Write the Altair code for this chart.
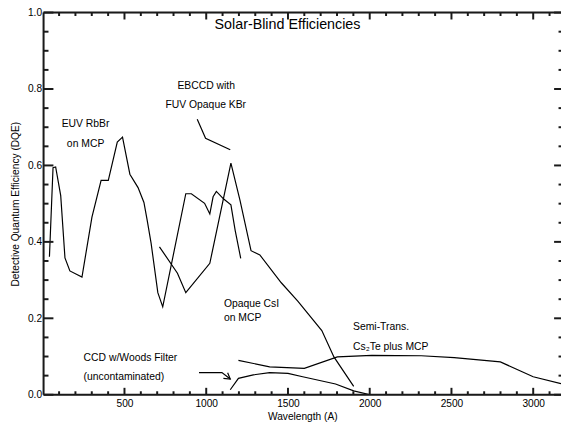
import altair as alt
import pandas as pd

# ---- curve data (wavelength in Angstrom, DQE) ----
euv_x = [41, 63, 79, 110, 136, 166, 240, 301, 357, 401, 456, 488, 533, 583, 619, 639,
         663, 704, 734, 875, 909, 990, 1022, 1042, 1062, 1107, 1151, 1177, 1211]
euv_y = [0.361, 0.594, 0.596, 0.521, 0.358, 0.324, 0.308, 0.465, 0.561, 0.561, 0.661,
         0.674, 0.577, 0.542, 0.503, 0.456, 0.396, 0.267, 0.230, 0.526, 0.526, 0.501,
         0.473, 0.518, 0.532, 0.512, 0.497, 0.430, 0.357]

csi_x = [714, 824, 875, 1022, 1151, 1207, 1274, 1328, 1459, 1560, 1707, 1781, 1902]
csi_y = [0.387, 0.318, 0.267, 0.344, 0.606, 0.508, 0.377, 0.366, 0.293, 0.245, 0.168,
         0.099, 0.022]

kbr_x = [945, 996, 1147]
kbr_y = [0.721, 0.671, 0.641]

cste_x = [1197, 1388, 1600, 1802, 2013, 2315, 2517, 2799, 3000, 3170]
cste_y = [0.090, 0.073, 0.069, 0.099, 0.103, 0.102, 0.097, 0.086, 0.047, 0.029]

ccd_x = [1147, 1197, 1288, 1388, 1500, 1590, 1791, 1902, 2003]
ccd_y = [0.013, 0.043, 0.052, 0.058, 0.056, 0.047, 0.028, 0.010, 0.000]

arrow_x = [956, 1096, 1147]
arrow_y = [0.058, 0.058, 0.041]
head_x = [1131, 1147, 1105]
head_y = [0.0575, 0.041, 0.043]

# ---- axis ticks ----
x_major = [500, 1000, 1500, 2000, 2500, 3000]
x_minor = [v for v in range(100, 3200, 100) if v % 500 != 0]
y_major = [0.0, 0.2, 0.4, 0.6, 0.8, 1.0]
y_minor = [round(0.05 * k, 2) for k in range(1, 20) if k % 4 != 0]

# ---- annotations ----
center_text = ["EBCCD with", "FUV Opaque KBr", "EUV RbBr", "on MCP"]
center_x = [1000, 997, 262, 262]
center_y = [0.807, 0.757, 0.709, 0.657]

left_text = ["Opaque CsI", "on MCP", "Semi-Trans.", "Cs\u2082Te plus MCP",
             "CCD w/Woods Filter", "(uncontaminated)"]
left_x = [1108, 1108, 1898, 1898, 250, 250]
left_y = [0.238, 0.200, 0.1765, 0.126, 0.0965, 0.0475]

title_text = ["Solar-Blind Efficiencies"]
title_x = [1497]
title_y = [0.968]

FONT = "Liberation Sans"
W, H = 524, 387
INK = "#1a1a1a"


def frame(name, xs, ys):
    return pd.DataFrame({"series": name, "x": xs, "y": ys, "i": list(range(len(xs)))})


df = pd.concat([
    frame("euv", euv_x, euv_y),
    frame("csi", csi_x, csi_y),
    frame("kbr", kbr_x, kbr_y),
    frame("cste", cste_x, cste_y),
    frame("ccd", ccd_x, ccd_y),
    frame("arrow", arrow_x, arrow_y),
    frame("head", head_x, head_y),
], ignore_index=True)

xscale = alt.Scale(domain=[5, 3170], nice=False, zero=False)
yscale = alt.Scale(domain=[0, 1], nice=False, zero=False)

X_AX = alt.Axis(
    values=x_major, format="d", title="Wavelength (A)", ticks=False, domain=False,
    grid=False, labelPadding=4, labelFontSize=10.3, labelFont=FONT, labelColor="black",
    titleFont=FONT, titleFontSize=10.3, titleFontWeight="normal", titleColor="black",
    titleY=22, titleBaseline="middle")
Y_AX = alt.Axis(
    values=y_major, format=".1f", title="Detective Quantum Efficiency (DQE)",
    ticks=False, domain=False, grid=False, labelPadding=2, labelFontSize=10.3,
    labelFont=FONT, labelColor="black", titleFont=FONT, titleFontSize=10.3,
    titleFontWeight="normal", titleColor="black", titleX=-28, titleBaseline="middle",
    titleAngle=-90)


def XE(field="x"):
    return alt.X(f"{field}:Q", scale=xscale, axis=X_AX)


def YE(field="y"):
    return alt.Y(f"{field}:Q", scale=yscale, axis=Y_AX)


lines = alt.Chart(df).mark_line(color="black", strokeWidth=1.2, clip=True).encode(
    x=XE(), y=YE(), detail="series:N", order="i:Q")

TW = 2


def vrules(values, y1, y2):
    return alt.Chart(pd.DataFrame({"x": values})).mark_rule(
        color=INK, strokeWidth=TW).encode(x=XE(), y=alt.value(y1), y2=alt.value(y2))


def hrules(values, x1, x2):
    return alt.Chart(pd.DataFrame({"y": values})).mark_rule(
        color=INK, strokeWidth=TW).encode(y=YE(), x=alt.value(x1), x2=alt.value(x2))


ticks = [
    vrules(x_major, H, H - 7), vrules(x_minor, H, H - 3.5),
    vrules(x_major, 0, 7), vrules(x_minor, 0, 3.5),
    hrules(y_major, 0, 10), hrules(y_minor, 0, 5),
    hrules(y_major, W - 7, W), hrules(y_minor, W - 2.5, W),
]

one = pd.DataFrame({"a": [0]})
BW = 2
border = [
    alt.Chart(one).mark_rule(color=INK, strokeWidth=BW).encode(
        x=alt.value(0), y=alt.value(0), y2=alt.value(H)),
    alt.Chart(one).mark_rule(color=INK, strokeWidth=BW).encode(
        x=alt.value(0), x2=alt.value(W), y=alt.value(0)),
    alt.Chart(one).mark_rule(color=INK, strokeWidth=BW).encode(
        x=alt.value(0), x2=alt.value(W), y=alt.value(H)),
]

center_df = pd.DataFrame({"x": center_x, "y": center_y, "t": center_text})
left_df = pd.DataFrame({"x": left_x, "y": left_y, "t": left_text})
title_df = pd.DataFrame({"x": title_x, "y": title_y, "t": title_text})

center_labels = alt.Chart(center_df).mark_text(
    font=FONT, fontSize=10.5, align="center", baseline="middle", color="black").encode(
    x=XE(), y=YE(), text="t:N")
left_labels = alt.Chart(left_df).mark_text(
    font=FONT, fontSize=10.5, align="left", baseline="middle", color="black").encode(
    x=XE(), y=YE(), text="t:N")
title_label = alt.Chart(title_df).mark_text(
    font=FONT, fontSize=14.5, align="center", baseline="middle", color="black").encode(
    x=XE(), y=YE(), text="t:N")

chart = alt.layer(lines, *ticks, *border, center_labels, left_labels, title_label).properties(
    width=W, height=H,
    autosize=alt.AutoSizeParams(type="none"),
    padding={"left": 36, "top": 2, "right": 0, "bottom": 27},
).configure_view(stroke=None).configure(background="white")

chart.save("out.html", embed_options={"renderer": "svg", "actions": False})
